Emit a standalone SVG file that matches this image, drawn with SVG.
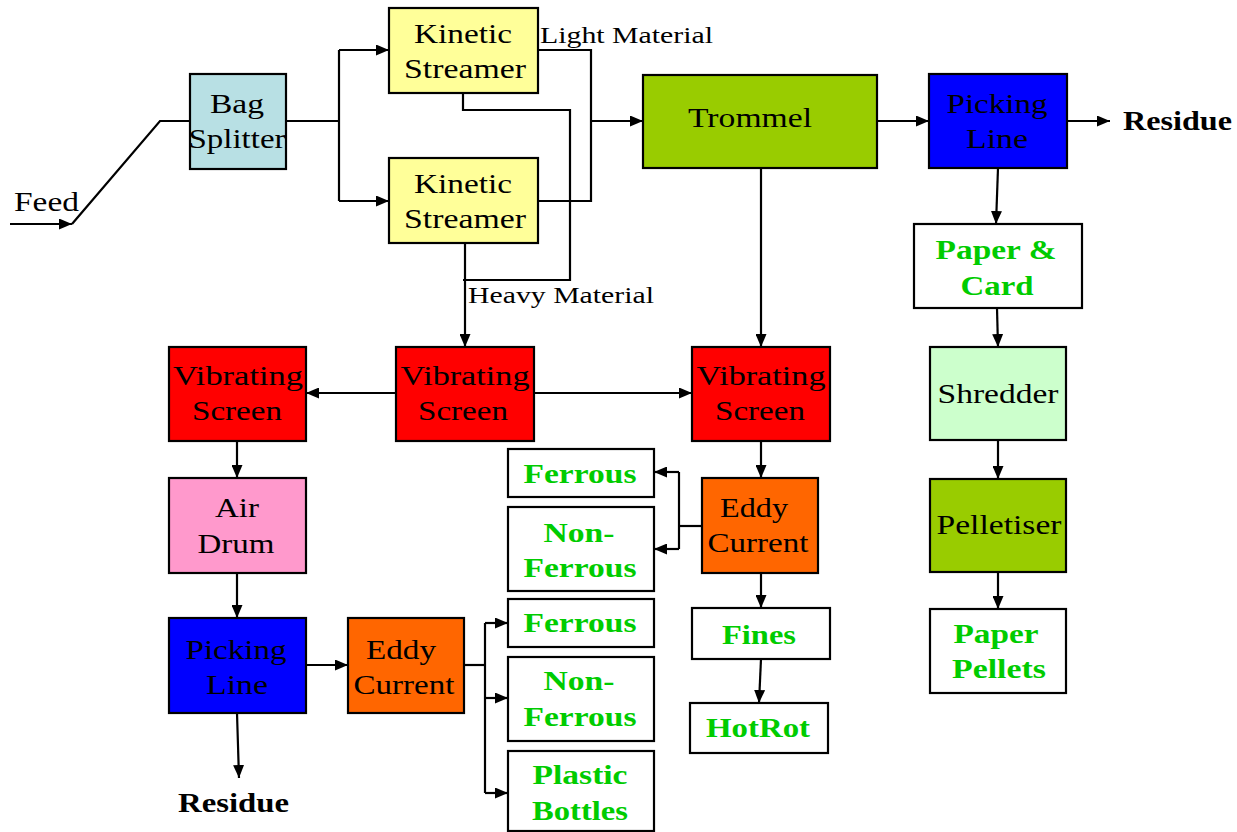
<svg xmlns="http://www.w3.org/2000/svg" width="1237" height="832" viewBox="0 0 1237 832">
<defs>
<marker id="arr" markerUnits="userSpaceOnUse" markerWidth="13" markerHeight="11" refX="13" refY="5.5" orient="auto"><path d="M0,0 L13,5.5 L0,11 z" fill="#000"/></marker>
<style>
.box{stroke:#000;stroke-width:2.2}
.t,.g,.b,.lab{font-family:'Liberation Serif',Tinos,'Times New Roman','Nimbus Roman',FreeSerif,serif}
.t{font-size:28px;fill:#000;text-anchor:middle}
.g{font-size:28px;font-weight:bold;fill:#00CC00;text-anchor:middle}
.b{font-size:28px;font-weight:bold;fill:#000}
.lab{font-size:24px;fill:#000}
.c{fill:none;stroke:#000;stroke-width:2.2}
.a{fill:none;stroke:#000;stroke-width:2.2;marker-end:url(#arr)}
</style>
</defs>
<rect width="1237" height="832" fill="#fff"/>

<g id="connectors">
<polyline class="a" points="10,224 72,224"/>
<polyline class="c" points="72,224 160,121 190,121"/>
<polyline class="c" points="286,121 339,121"/>
<polyline class="c" points="339,50 339,201"/>
<polyline class="a" points="339,50 389,50"/>
<polyline class="a" points="339,201 389,201"/>
<polyline class="c" points="538,50 591,50 591,201 538,201"/>
<polyline class="a" points="591,121 643,121"/>
<polyline class="c" points="463,93 463,110 570,110 570,280 463,280"/>
<polyline class="a" points="465,243 465,347"/>
<polyline class="a" points="877,121 929,121"/>
<polyline class="a" points="1067,121 1110,121"/>
<polyline class="a" points="998,168 996,224"/>
<polyline class="a" points="997,308 998,347"/>
<polyline class="a" points="998,440 998,479"/>
<polyline class="a" points="998,572 998,609"/>
<polyline class="a" points="761,168 761,347"/>
<polyline class="a" points="396,393 306,393"/>
<polyline class="a" points="534,393 692,393"/>
<polyline class="a" points="237,441 237,478"/>
<polyline class="a" points="237,573 237,618"/>
<polyline class="a" points="237,713 239,778"/>
<polyline class="a" points="306,665 348,665"/>
<polyline class="c" points="464,665 485,665"/>
<polyline class="c" points="485,623 485,793"/>
<polyline class="a" points="485,623 508,623"/>
<polyline class="a" points="485,698 508,698"/>
<polyline class="a" points="485,793 508,793"/>
<polyline class="a" points="761,441 761,478"/>
<polyline class="c" points="702,526 679,526"/>
<polyline class="c" points="679,472 679,549"/>
<polyline class="a" points="679,472 654,472"/>
<polyline class="a" points="679,549 654,549"/>
<polyline class="a" points="761,573 761,608"/>
<polyline class="a" points="761,659 759,703"/>
</g>

<g id="labels">
<text class="t" x="14" y="211" style="text-anchor:start" textLength="65" lengthAdjust="spacingAndGlyphs">Feed</text>
<text class="lab" x="540" y="43" textLength="173" lengthAdjust="spacingAndGlyphs">Light Material</text>
<text class="lab" x="468" y="303" textLength="186" lengthAdjust="spacingAndGlyphs">Heavy Material</text>
<text class="b" x="1123" y="130" textLength="109" lengthAdjust="spacingAndGlyphs">Residue</text>
<text class="b" x="178" y="812" textLength="111" lengthAdjust="spacingAndGlyphs">Residue</text>
</g>

<g id="bag-splitter">
<rect class="box" x="190" y="74" width="96" height="95" fill="#B8E0E4"/>
<text class="t" x="237" y="113" textLength="54" lengthAdjust="spacingAndGlyphs">Bag</text>
<text class="t" x="237" y="148" textLength="97" lengthAdjust="spacingAndGlyphs">Splitter</text>
</g>

<g id="kinetic-streamer-1">
<rect class="box" x="389" y="8" width="149" height="85" fill="#FFFF99"/>
<text class="t" x="463" y="43" textLength="98" lengthAdjust="spacingAndGlyphs">Kinetic</text>
<text class="t" x="465" y="78" textLength="122" lengthAdjust="spacingAndGlyphs">Streamer</text>
</g>

<g id="kinetic-streamer-2">
<rect class="box" x="389" y="158" width="149" height="85" fill="#FFFF99"/>
<text class="t" x="463" y="193" textLength="98" lengthAdjust="spacingAndGlyphs">Kinetic</text>
<text class="t" x="465" y="228" textLength="122" lengthAdjust="spacingAndGlyphs">Streamer</text>
</g>

<g id="trommel">
<rect class="box" x="643" y="75" width="234" height="93" fill="#99CC00"/>
<text class="t" x="750" y="127" textLength="124" lengthAdjust="spacingAndGlyphs">Trommel</text>
</g>

<g id="picking-line-1">
<rect class="box" x="929" y="74" width="138" height="94" fill="#0000FF"/>
<text class="t" x="997" y="113" textLength="101" lengthAdjust="spacingAndGlyphs">Picking</text>
<text class="t" x="997" y="148" textLength="62" lengthAdjust="spacingAndGlyphs">Line</text>
</g>

<g id="paper-card">
<rect class="box" x="914" y="224" width="168" height="84" fill="#fff"/>
<text class="g" x="996" y="259" textLength="121" lengthAdjust="spacingAndGlyphs">Paper &amp;</text>
<text class="g" x="997" y="295" textLength="73" lengthAdjust="spacingAndGlyphs">Card</text>
</g>

<g id="shredder">
<rect class="box" x="930" y="347" width="136" height="93" fill="#CCFFCC"/>
<text class="t" x="998" y="403" textLength="121" lengthAdjust="spacingAndGlyphs">Shredder</text>
</g>

<g id="pelletiser">
<rect class="box" x="930" y="479" width="136" height="93" fill="#99CC00"/>
<text class="t" x="999" y="534" textLength="125" lengthAdjust="spacingAndGlyphs">Pelletiser</text>
</g>

<g id="paper-pellets">
<rect class="box" x="930" y="609" width="136" height="84" fill="#fff"/>
<text class="g" x="996" y="643" textLength="85" lengthAdjust="spacingAndGlyphs">Paper</text>
<text class="g" x="999" y="678" textLength="94" lengthAdjust="spacingAndGlyphs">Pellets</text>
</g>

<g id="vibrating-screen-left">
<rect class="box" x="169" y="347" width="137" height="94" fill="#FF0000"/>
<text class="t" x="238" y="385" textLength="130" lengthAdjust="spacingAndGlyphs">Vibrating</text>
<text class="t" x="237" y="420" textLength="90" lengthAdjust="spacingAndGlyphs">Screen</text>
</g>

<g id="vibrating-screen-middle">
<rect class="box" x="396" y="347" width="138" height="94" fill="#FF0000"/>
<text class="t" x="465" y="385" textLength="129" lengthAdjust="spacingAndGlyphs">Vibrating</text>
<text class="t" x="463" y="420" textLength="90" lengthAdjust="spacingAndGlyphs">Screen</text>
</g>

<g id="vibrating-screen-right">
<rect class="box" x="692" y="347" width="138" height="94" fill="#FF0000"/>
<text class="t" x="761" y="385" textLength="129" lengthAdjust="spacingAndGlyphs">Vibrating</text>
<text class="t" x="760" y="420" textLength="90" lengthAdjust="spacingAndGlyphs">Screen</text>
</g>

<g id="air-drum">
<rect class="box" x="169" y="478" width="137" height="95" fill="#FF99CC"/>
<text class="t" x="237" y="517" textLength="44" lengthAdjust="spacingAndGlyphs">Air</text>
<text class="t" x="236" y="553" textLength="77" lengthAdjust="spacingAndGlyphs">Drum</text>
</g>

<g id="picking-line-2">
<rect class="box" x="169" y="618" width="137" height="95" fill="#0000FF"/>
<text class="t" x="236" y="659" textLength="101" lengthAdjust="spacingAndGlyphs">Picking</text>
<text class="t" x="237" y="694" textLength="62" lengthAdjust="spacingAndGlyphs">Line</text>
</g>

<g id="eddy-current-left">
<rect class="box" x="348" y="618" width="116" height="95" fill="#FF6600"/>
<text class="t" x="401" y="659" textLength="70" lengthAdjust="spacingAndGlyphs">Eddy</text>
<text class="t" x="404" y="694" textLength="101" lengthAdjust="spacingAndGlyphs">Current</text>
</g>

<g id="eddy-current-right">
<rect class="box" x="702" y="478" width="116" height="95" fill="#FF6600"/>
<text class="t" x="754" y="517" textLength="68" lengthAdjust="spacingAndGlyphs">Eddy</text>
<text class="t" x="758" y="552" textLength="101" lengthAdjust="spacingAndGlyphs">Current</text>
</g>

<g id="ferrous-1">
<rect class="box" x="508" y="449" width="146" height="48" fill="#fff"/>
<text class="g" x="580" y="483" textLength="113" lengthAdjust="spacingAndGlyphs">Ferrous</text>
</g>

<g id="non-ferrous-1">
<rect class="box" x="508" y="507" width="146" height="84" fill="#fff"/>
<text class="g" x="579" y="542" textLength="71" lengthAdjust="spacingAndGlyphs">Non-</text>
<text class="g" x="580" y="577" textLength="113" lengthAdjust="spacingAndGlyphs">Ferrous</text>
</g>

<g id="ferrous-2">
<rect class="box" x="508" y="599" width="146" height="48" fill="#fff"/>
<text class="g" x="580" y="632" textLength="113" lengthAdjust="spacingAndGlyphs">Ferrous</text>
</g>

<g id="non-ferrous-2">
<rect class="box" x="508" y="657" width="146" height="84" fill="#fff"/>
<text class="g" x="579" y="690" textLength="71" lengthAdjust="spacingAndGlyphs">Non-</text>
<text class="g" x="580" y="726" textLength="113" lengthAdjust="spacingAndGlyphs">Ferrous</text>
</g>

<g id="plastic-bottles">
<rect class="box" x="508" y="751" width="146" height="80" fill="#fff"/>
<text class="g" x="580" y="784" textLength="95" lengthAdjust="spacingAndGlyphs">Plastic</text>
<text class="g" x="580" y="820" textLength="96" lengthAdjust="spacingAndGlyphs">Bottles</text>
</g>

<g id="fines">
<rect class="box" x="692" y="608" width="138" height="51" fill="#fff"/>
<text class="g" x="759" y="644" textLength="74" lengthAdjust="spacingAndGlyphs">Fines</text>
</g>

<g id="hotrot">
<rect class="box" x="690" y="703" width="138" height="50" fill="#fff"/>
<text class="g" x="758" y="737" textLength="104" lengthAdjust="spacingAndGlyphs">HotRot</text>
</g>
</svg>
